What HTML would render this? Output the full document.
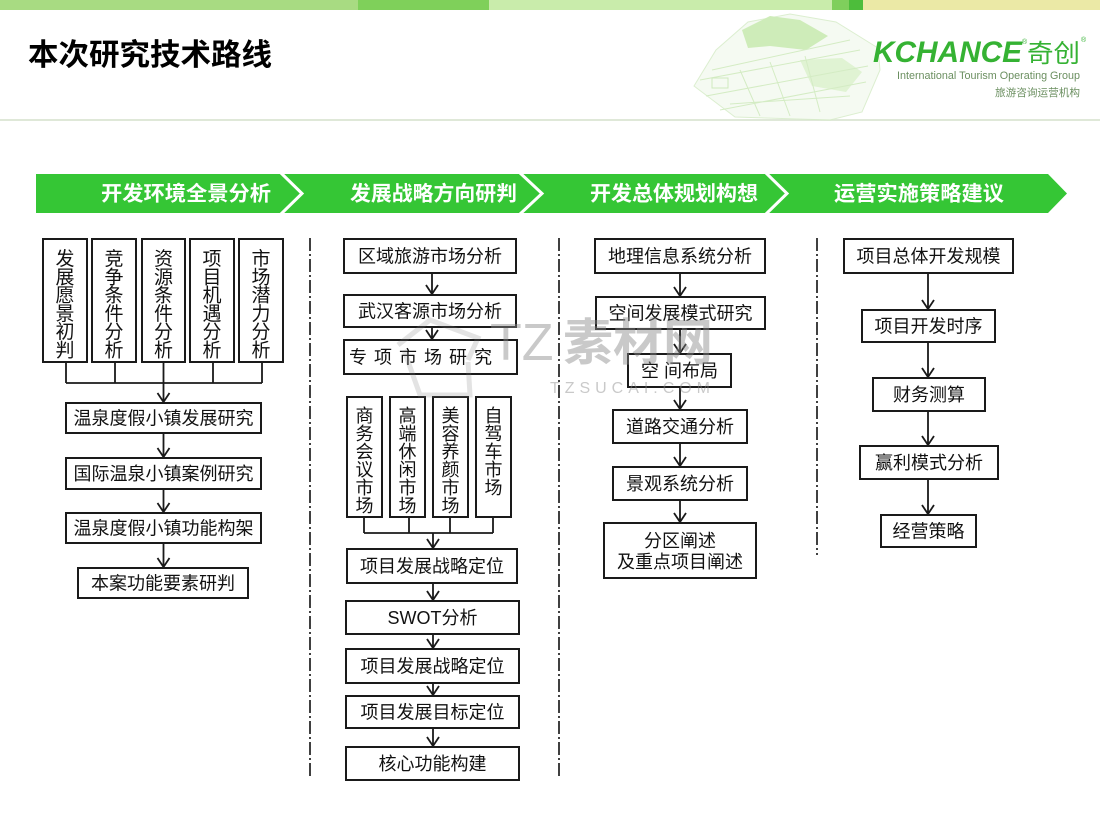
<!DOCTYPE html>
<html><head><meta charset="utf-8"><style>
html,body{margin:0;padding:0;background:#fff;}
svg{display:block;}
</style></head><body>
<svg width="1100" height="825" viewBox="0 0 1100 825" xmlns="http://www.w3.org/2000/svg" font-family="'Liberation Sans','Noto Sans CJK SC',sans-serif">
<!-- top bar -->
<rect x="0" y="0" width="358" height="10" fill="#a8db82"/>
<rect x="358" y="0" width="131" height="10" fill="#7fd05a"/>
<rect x="489" y="0" width="343" height="10" fill="#c9ecab"/>
<rect x="832" y="0" width="17" height="10" fill="#7fcf5c"/>
<rect x="849" y="0" width="14" height="10" fill="#4dbd3b"/>
<rect x="863" y="0" width="237" height="10" fill="#ebe9a6"/>
<!-- separator line -->
<rect x="0" y="119" width="1100" height="2" fill="#dfe8d8"/>

<!-- map sketch -->
<g opacity="0.85">
<polygon points="694,86 716,50 748,22 790,14 836,22 878,48 880,70 862,112 830,120 735,117" fill="#f4faf0" stroke="#d6ecc8" stroke-width="1"/>
<polygon points="742,30 770,16 800,20 828,36 806,50 770,46 748,48" fill="#c6e9ad"/>
<polygon points="800,60 842,58 862,72 846,92 812,86" fill="#dbf1cc"/>
<path d="M700 80 L860 50 M706 96 L868 66 M720 110 L866 82 M740 70 L760 116 M770 62 L790 116 M805 56 L820 112 M712 70 L850 40 M730 104 L850 96" stroke="#cde9ba" stroke-width="1" fill="none"/>
<rect x="712" y="78" width="16" height="10" fill="none" stroke="#c7e6b3"/>
</g>

<!-- title -->
<text x="28" y="65" font-size="30" font-weight="bold" fill="#000" textLength="244" lengthAdjust="spacingAndGlyphs">本次研究技术路线</text>

<!-- logo -->
<text x="873" y="62" font-size="30" font-weight="bold" font-style="italic" fill="#35b233" textLength="149" lengthAdjust="spacingAndGlyphs">KCHANCE</text>
<text x="1022" y="44" font-size="7" fill="#35b233">®</text>
<text x="1027" y="62" font-size="25" fill="#35b233" textLength="53" lengthAdjust="spacingAndGlyphs">奇创</text>
<text x="1081" y="42" font-size="7" fill="#35b233">®</text>
<text x="897" y="79" font-size="11" fill="#6b8f60" textLength="183" lengthAdjust="spacingAndGlyphs">International Tourism Operating Group</text>
<text x="995" y="96" font-size="10.5" fill="#6b8f60" textLength="85" lengthAdjust="spacingAndGlyphs">旅游咨询运营机构</text>

<!-- header band -->
<polygon points="36,174 1048,174 1067,193.5 1048,213 36,213" fill="#35c635"/>
<polyline points="280,172 302,193.5 280,215" fill="none" stroke="#fff" stroke-width="3"/>
<polyline points="519,172 542,193.5 519,215" fill="none" stroke="#fff" stroke-width="3"/>
<polyline points="765,172 787,193.5 765,215" fill="none" stroke="#fff" stroke-width="3"/>
<g font-size="20.5" font-weight="bold" fill="#fff" dominant-baseline="central">
<text x="101" y="194" textLength="170" lengthAdjust="spacingAndGlyphs">开发环境全景分析</text>
<text x="350" y="194" textLength="167" lengthAdjust="spacingAndGlyphs">发展战略方向研判</text>
<text x="590" y="194" textLength="168" lengthAdjust="spacingAndGlyphs">开发总体规划构想</text>
<text x="834" y="194" textLength="170" lengthAdjust="spacingAndGlyphs">运营实施策略建议</text>
</g>

<!-- dashed separators -->
<g stroke="#111" stroke-width="1.6" stroke-dasharray="13 3 2 3" fill="none">
<line x1="310" y1="238" x2="310" y2="778"/>
<line x1="559" y1="238" x2="559" y2="778"/>
<line x1="817" y1="238" x2="817" y2="555"/>
</g>

<!-- boxes -->
<g fill="#fff" stroke="#1a1a1a" stroke-width="2">
<!-- col1 -->
<rect x="43" y="239" width="44" height="123"/>
<rect x="92" y="239" width="44" height="123"/>
<rect x="142" y="239" width="43" height="123"/>
<rect x="190" y="239" width="44" height="123"/>
<rect x="239" y="239" width="44" height="123"/>
<rect x="66" y="403" width="195" height="30"/>
<rect x="66" y="458" width="195" height="31"/>
<rect x="66" y="513" width="195" height="30"/>
<rect x="78" y="568" width="170" height="30"/>
<!-- col2 -->
<rect x="344" y="239" width="172" height="34"/>
<rect x="344" y="295" width="172" height="32"/>
<rect x="344" y="340" width="173" height="34"/>
<rect x="347" y="397" width="35" height="120"/>
<rect x="390" y="397" width="35" height="120"/>
<rect x="433" y="397" width="35" height="120"/>
<rect x="476" y="397" width="35" height="120"/>
<rect x="347" y="549" width="170" height="34"/>
<rect x="346" y="601" width="173" height="33"/>
<rect x="346" y="649" width="173" height="34"/>
<rect x="346" y="696" width="173" height="32"/>
<rect x="346" y="747" width="173" height="33"/>
<!-- col3 -->
<rect x="595" y="239" width="170" height="34"/>
<rect x="596" y="297" width="169" height="32"/>
<rect x="628" y="354" width="103" height="33"/>
<rect x="613" y="410" width="134" height="33"/>
<rect x="613" y="467" width="134" height="33"/>
<rect x="604" y="523" width="152" height="55"/>
<!-- col4 -->
<rect x="844" y="239" width="169" height="34"/>
<rect x="862" y="310" width="133" height="32"/>
<rect x="873" y="378" width="112" height="33"/>
<rect x="860" y="446" width="138" height="33"/>
<rect x="881" y="515" width="95" height="32"/>
</g>

<!-- connectors -->
<g fill="none" stroke="#1a1a1a" stroke-width="1.8">
<path d="M66 362 V383 M115 362 V383 M163.5 362 V383 M213 362 V383 M262 362 V383 M66 383 H262"/>
<path d="M163.5 383 V402 M157.5 393 L163.5 402 L169.5 393"/>
<path d="M163.5 433 V457 M157.5 448 L163.5 457 L169.5 448"/>
<path d="M163.5 489 V512 M157.5 503 L163.5 512 L169.5 503"/>
<path d="M163.5 543 V567 M157.5 558 L163.5 567 L169.5 558"/>
<path d="M432 273 V294 M426 285 L432 294 L438 285"/>
<path d="M432 327 V339 M426 330 L432 339 L438 330"/>
<path d="M364 517 V533 M409 517 V533 M450 517 V533 M493 517 V533 M364 533 H493"/>
<path d="M433 533 V548 M427 539 L433 548 L439 539"/>
<path d="M433 583 V600 M427 591 L433 600 L439 591"/>
<path d="M433 634 V648 M427 639 L433 648 L439 639"/>
<path d="M433 683 V695 M427 686 L433 695 L439 686"/>
<path d="M433 728 V746 M427 737 L433 746 L439 737"/>
<path d="M680 273 V296 M674 287 L680 296 L686 287"/>
<path d="M680 329 V353 M674 344 L680 353 L686 344"/>
<path d="M680 387 V409 M674 400 L680 409 L686 400"/>
<path d="M680 443 V466 M674 457 L680 466 L686 457"/>
<path d="M680 500 V522 M674 513 L680 522 L686 513"/>
<path d="M928 273 V309 M922 300 L928 309 L934 300"/>
<path d="M928 342 V377 M922 368 L928 377 L934 368"/>
<path d="M928 411 V445 M922 436 L928 445 L934 436"/>
<path d="M928 479 V514 M922 505 L928 514 L934 505"/>
</g>

<!-- box texts -->
<g font-size="18" fill="#111" text-anchor="middle" dominant-baseline="central">
<text font-size="19"><tspan x="65" y="259">发</tspan><tspan x="65" y="277.3">展</tspan><tspan x="65" y="295.6">愿</tspan><tspan x="65" y="313.9">景</tspan><tspan x="65" y="332.2">初</tspan><tspan x="65" y="350.5">判</tspan></text>
<text font-size="19"><tspan x="114" y="259">竞</tspan><tspan x="114" y="277.3">争</tspan><tspan x="114" y="295.6">条</tspan><tspan x="114" y="313.9">件</tspan><tspan x="114" y="332.2">分</tspan><tspan x="114" y="350.5">析</tspan></text>
<text font-size="19"><tspan x="163.5" y="259">资</tspan><tspan x="163.5" y="277.3">源</tspan><tspan x="163.5" y="295.6">条</tspan><tspan x="163.5" y="313.9">件</tspan><tspan x="163.5" y="332.2">分</tspan><tspan x="163.5" y="350.5">析</tspan></text>
<text font-size="19"><tspan x="212" y="259">项</tspan><tspan x="212" y="277.3">目</tspan><tspan x="212" y="295.6">机</tspan><tspan x="212" y="313.9">遇</tspan><tspan x="212" y="332.2">分</tspan><tspan x="212" y="350.5">析</tspan></text>
<text font-size="19"><tspan x="261" y="259">市</tspan><tspan x="261" y="277.3">场</tspan><tspan x="261" y="295.6">潜</tspan><tspan x="261" y="313.9">力</tspan><tspan x="261" y="332.2">分</tspan><tspan x="261" y="350.5">析</tspan></text>
<text x="163.5" y="418.5">温泉度假小镇发展研究</text>
<text x="163.5" y="474">国际温泉小镇案例研究</text>
<text x="163.5" y="528.5">温泉度假小镇功能构架</text>
<text x="163" y="583.5">本案功能要素研判</text>
<text x="430" y="256.5">区域旅游市场分析</text>
<text x="430" y="311.5">武汉客源市场分析</text>
<text x="424" y="357.5" letter-spacing="7">专项市场研究</text>
<text><tspan x="364.5" y="416">商</tspan><tspan x="364.5" y="434">务</tspan><tspan x="364.5" y="452">会</tspan><tspan x="364.5" y="470">议</tspan><tspan x="364.5" y="488">市</tspan><tspan x="364.5" y="506">场</tspan></text>
<text><tspan x="407.5" y="416">高</tspan><tspan x="407.5" y="434">端</tspan><tspan x="407.5" y="452">休</tspan><tspan x="407.5" y="470">闲</tspan><tspan x="407.5" y="488">市</tspan><tspan x="407.5" y="506">场</tspan></text>
<text><tspan x="450.5" y="416">美</tspan><tspan x="450.5" y="434">容</tspan><tspan x="450.5" y="452">养</tspan><tspan x="450.5" y="470">颜</tspan><tspan x="450.5" y="488">市</tspan><tspan x="450.5" y="506">场</tspan></text>
<text><tspan x="493.5" y="416">自</tspan><tspan x="493.5" y="434">驾</tspan><tspan x="493.5" y="452">车</tspan><tspan x="493.5" y="470">市</tspan><tspan x="493.5" y="488">场</tspan></text>
<text x="432" y="566.5">项目发展战略定位</text>
<text x="432.5" y="618">SWOT分析</text>
<text x="432.5" y="666.5">项目发展战略定位</text>
<text x="432.5" y="712.5">项目发展目标定位</text>
<text x="432.5" y="764">核心功能构建</text>
<text x="680" y="256.5">地理信息系统分析</text>
<text x="680.5" y="313.5">空间发展模式研究</text>
<text x="679.5" y="371">空 间布局</text>
<text x="680" y="427">道路交通分析</text>
<text x="680" y="484">景观系统分析</text>
<text x="680" y="541">分区阐述</text>
<text x="680" y="562">及重点项目阐述</text>
<text x="928.5" y="256.5">项目总体开发规模</text>
<text x="928.5" y="326.5">项目开发时序</text>
<text x="929" y="395">财务测算</text>
<text x="929" y="463">赢利模式分析</text>
<text x="928.5" y="531.5">经营策略</text>
</g>

<!-- watermark -->
<g opacity="0.45" fill="#8a8a8a">
<text x="490" y="360" font-size="52" font-family="'Liberation Sans',sans-serif">TZ</text>
<text x="563" y="360" font-size="50" font-weight="bold" font-family="'Noto Sans CJK SC',sans-serif" textLength="150" lengthAdjust="spacingAndGlyphs">素材网</text>
<text x="550" y="393" font-size="16" font-family="'Liberation Sans',sans-serif" textLength="160" lengthAdjust="spacing">TZSUCAI.COM</text>
</g>
<g opacity="0.22" fill="none" stroke="#808080" stroke-width="5">
<path d="M398 345 L430 320 L478 338 L468 360 M404 350 L420 395 L470 395 L468 362"/>
</g>
</svg>
</body></html>
